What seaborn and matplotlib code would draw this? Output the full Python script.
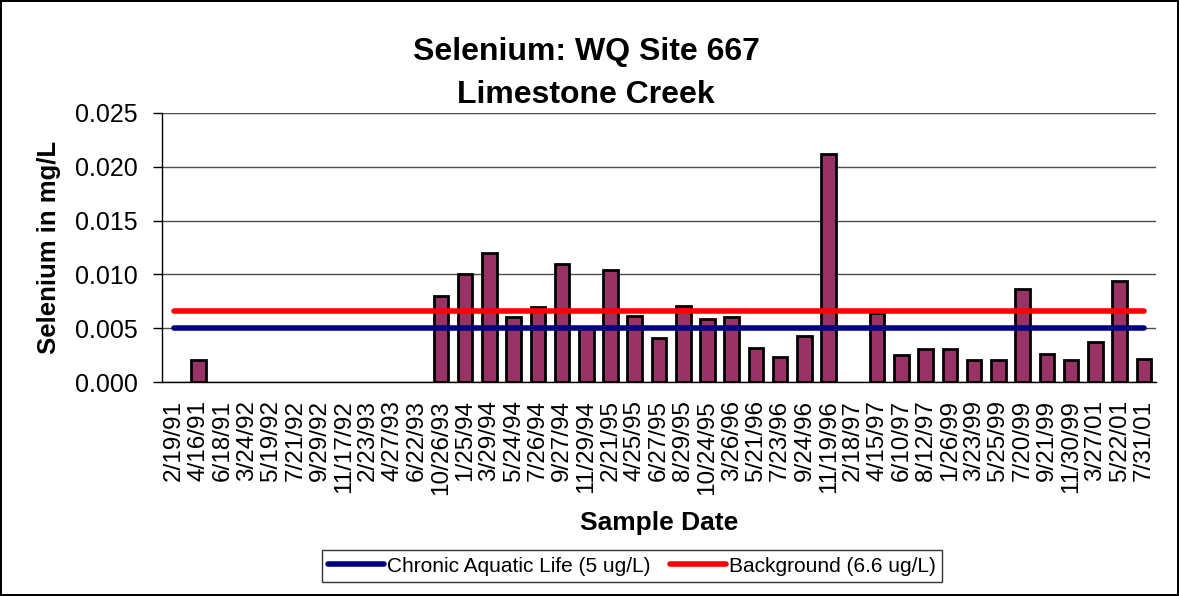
import numpy as np
import pandas as pd
import seaborn as sns
import matplotlib.pyplot as plt
from matplotlib.ticker import FixedLocator

dates = ['2/19/91', '4/16/91', '6/18/91', '3/24/92', '5/19/92', '7/21/92', '9/29/92',
         '11/17/92', '2/23/93', '4/27/93', '6/22/93', '10/26/93', '1/25/94', '3/29/94',
         '5/24/94', '7/26/94', '9/27/94', '11/29/94', '2/21/95', '4/25/95', '6/27/95',
         '8/29/95', '10/24/95', '3/26/96', '5/21/96', '7/23/96', '9/24/96', '11/19/96',
         '2/18/97', '4/15/97', '6/10/97', '8/12/97', '1/26/99', '3/23/99', '5/25/99',
         '7/20/99', '9/21/99', '11/30/99', '3/27/01', '5/22/01', '7/31/01']
selenium = [np.nan, 0.002, np.nan, np.nan, np.nan, np.nan, np.nan,
            np.nan, np.nan, np.nan, np.nan, 0.008, 0.010, 0.012,
            0.006, 0.007, 0.011, 0.005, 0.0104, 0.0061, 0.0041,
            0.0071, 0.0059, 0.006, 0.0032, 0.0023, 0.0043, 0.0212,
            np.nan, 0.0064, 0.0025, 0.0031, 0.0031, 0.002, 0.002,
            0.0086, 0.0026, 0.002, 0.0037, 0.0094, 0.0021]
chronic = 0.005
background = 0.0066

df = pd.DataFrame({'date': dates, 'se': selenium})

sns.set_style('white')
plt.rcParams['font.family'] = ['Liberation Sans', 'DejaVu Sans']
plt.rcParams['text.color'] = 'black'
plt.rcParams['axes.labelcolor'] = 'black'
plt.rcParams['xtick.color'] = 'black'
plt.rcParams['ytick.color'] = 'black'

fig = plt.figure(figsize=(11.79, 5.96), dpi=100)
fig.patch.set_edgecolor('black')
fig.patch.set_linewidth(1.5)
ax = fig.add_axes([162 / 1179, 1 - 382 / 596, (1156 - 162) / 1179, (382 - 113) / 596])

sns.barplot(data=df, x='date', y='se', order=dates, color='#993366', saturation=1,
            width=0.6, edgecolor='black', linewidth=2, ax=ax, zorder=2)

pos = np.arange(len(dates))
ax.plot(pos, [chronic] * len(dates), color='#000080', lw=4, solid_capstyle='round',
        label='Chronic Aquatic Life (5 ug/L)', zorder=3)
ax.plot(pos, [background] * len(dates), color='#FF0000', lw=4, solid_capstyle='round',
        label='Background (6.6 ug/L)', zorder=3)

ax.set_xlim(-0.5, len(dates) - 0.5)
ax.set_ylim(0, 0.025)
yt = np.arange(0, 0.0251, 0.005)
ax.set_yticks(yt)
ax.set_yticklabels([f'{v:.3f}' for v in yt], fontsize=18)
ax.yaxis.grid(True, color='black', lw=1, alpha=0.7)
ax.set_axisbelow(True)

ax.set_xticks(pos)
ax.set_xticklabels(dates, rotation=90, fontsize=17.5)
ax.tick_params(axis='x', which='major', length=0, pad=13)
ax.xaxis.set_minor_locator(FixedLocator(np.arange(-0.5, len(dates), 1)))
ax.tick_params(axis='x', which='minor', length=6, direction='out', color='black', width=1)
ax.tick_params(axis='y', length=6.5, pad=11, direction='out', color='black', width=1, left=True)

for s in ['top', 'right']:
    ax.spines[s].set_visible(False)
for s in ['left', 'bottom']:
    ax.spines[s].set_color('black')
    ax.spines[s].set_linewidth(1)

ax.set_xlabel('Sample Date', fontsize=19, fontweight='bold', labelpad=12)
ax.set_ylabel('Selenium in mg/L', fontsize=18.5, fontweight='bold', labelpad=10)
fig.text(586 / 1179, 1 - 52 / 596, 'Selenium: WQ Site 667', ha='center', va='center',
         fontsize=23, fontweight='bold')
fig.text(586 / 1179, 1 - 95 / 596, 'Limestone Creek', ha='center', va='center',
         fontsize=23, fontweight='bold')

leg = fig.legend(loc='center', bbox_to_anchor=(632 / 1179, 1 - 566 / 596), ncol=2,
                 fontsize=15, frameon=True, fancybox=False, edgecolor='black',
                 handlelength=2.7, handletextpad=0.15, columnspacing=0.9,
                 borderpad=0.3)
leg.get_frame().set_linewidth(1)

fig.savefig('out.png', dpi=100, edgecolor=fig.get_edgecolor())
